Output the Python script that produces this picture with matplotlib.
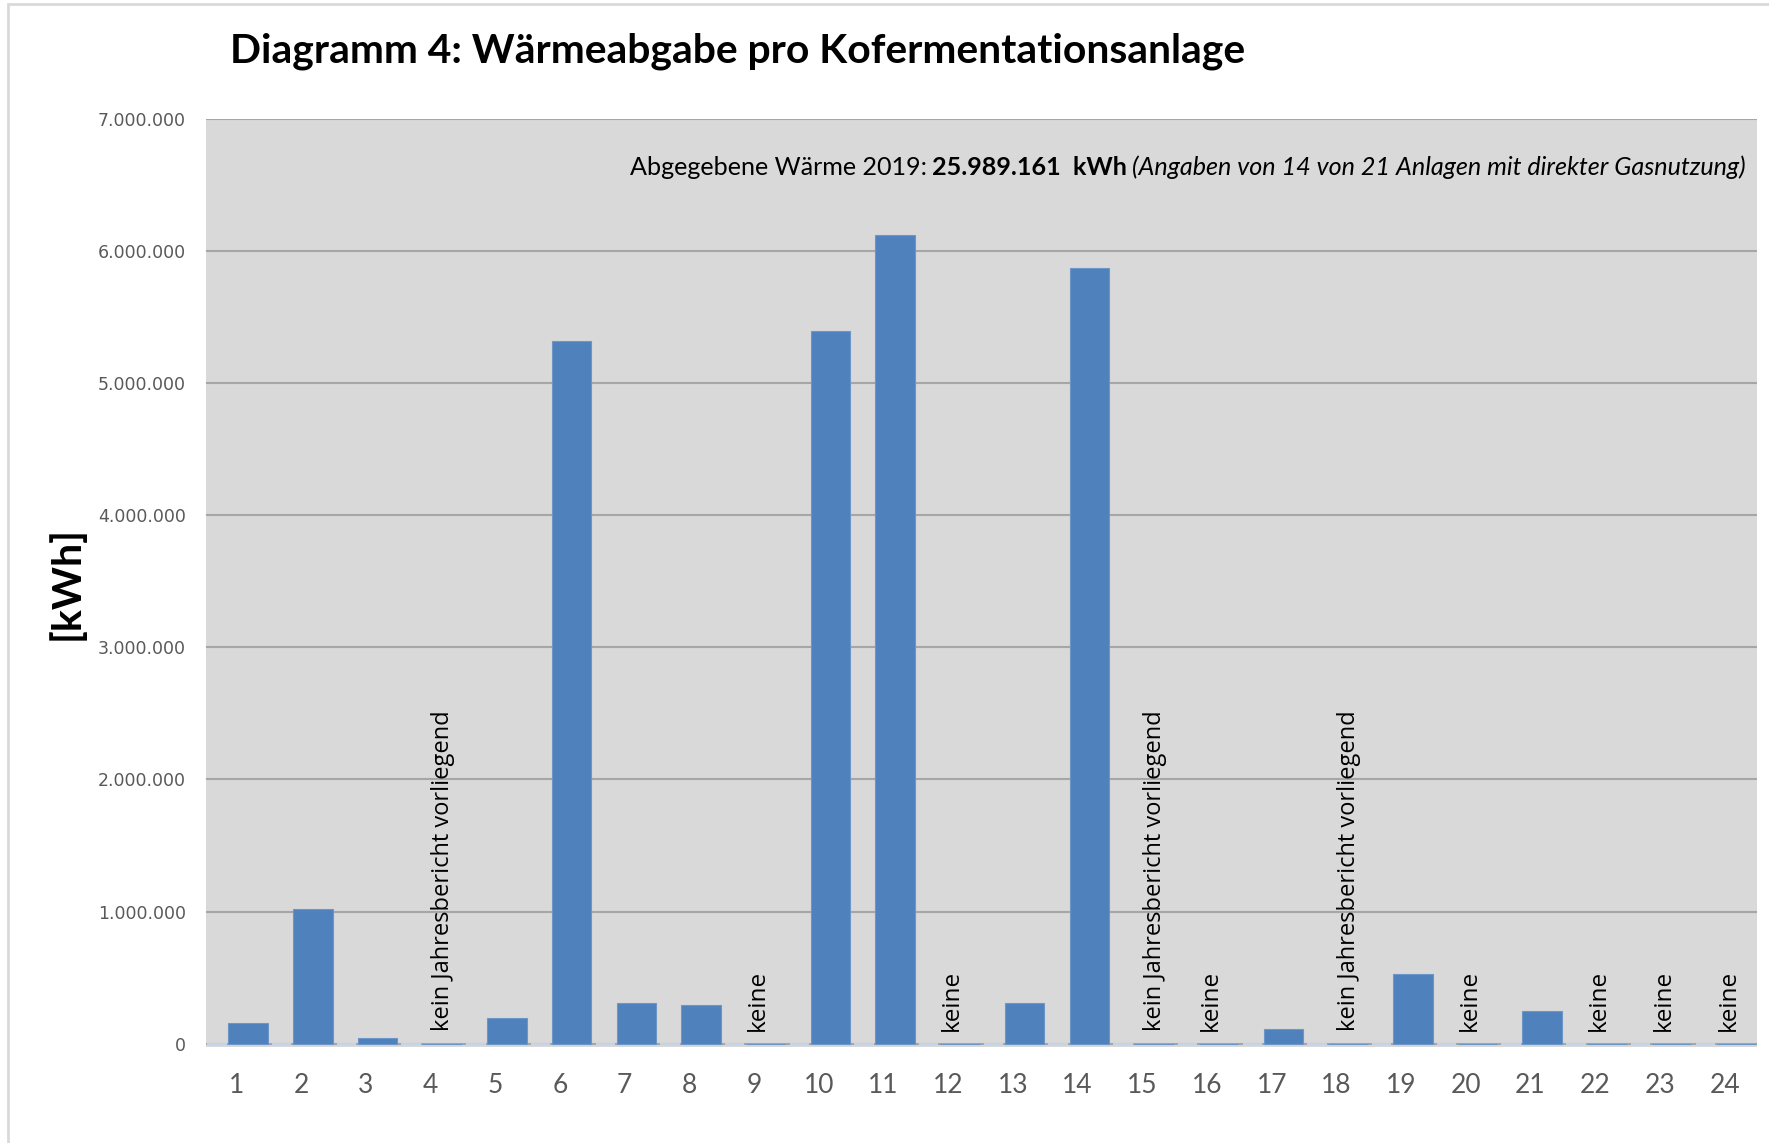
import matplotlib.pyplot as plt
import numpy as np

# Daten
title = 'Diagramm 4: Wärmeabgabe pro Kofermentationsanlage'
anlagen = list(range(1, 25))
waerme = [154000, 1020000, 41000, 0, 197000, 5320000, 308000, 292000, 0,
          5390000, 6119000, 0, 308000, 5869000, 0, 0, 113000, 0, 531000, 0,
          251000, 0, 0, 0]
leer = [0] * 24  # zweite (leere) Reihe, nur als Linie bei 0 sichtbar
hinweise = {4: 'kein Jahresbericht vorliegend', 9: 'keine', 12: 'keine',
            15: 'kein Jahresbericht vorliegend', 16: 'keine',
            18: 'kein Jahresbericht vorliegend', 20: 'keine', 22: 'keine',
            23: 'keine', 24: 'keine'}
y_ticks = np.arange(0, 7000001, 1000000)
txt_a = 'Abgegebene Wärme 2019:'
txt_b = '25.989.161  kWh'
txt_c = '(Angaben von 14 von 21 Anlagen mit direkter Gasnutzung)'

fig = plt.figure(figsize=(17.69, 11.43), dpi=100)
ax = fig.add_axes([206/1769, 1-1047/1143, (1757-206)/1769, (1047-118.5)/1143])
ax.set_facecolor('#D9D9D9')

x = np.array(anlagen)
ax.bar(x - 0.3, leer, 0.3, color='#C5D3E8', edgecolor='#C5D3E8', lw=1.5, zorder=2)
ax.bar(x + 0.18, waerme, 0.61, color='#4F81BD', edgecolor='#6C95C8', lw=0.8, zorder=3)

ax.set_xlim(0.53, 24.5)
ax.set_ylim(-25000, 7000000)
ax.set_yticks(y_ticks)
ax.set_yticklabels([f'{v:,.0f}'.replace(',', '.') for v in y_ticks],
                   fontsize=12.5, color='#595959', family='DejaVu Sans')
ax.set_xticks(x)
ax.set_xticklabels([str(a) for a in anlagen], fontsize=19, color='#595959', family='Lato')
ax.tick_params(axis='both', length=0)
ax.tick_params(axis='x', pad=19)
ax.tick_params(axis='y', pad=14.5)
ax.grid(axis='y', color='#A6A6A6', lw=1.5, zorder=1)
for s in ax.spines.values():
    s.set_visible(False)

# Hinweise senkrecht
for k, t in hinweise.items():
    lang = len(t) > 10
    ax.annotate(t, xy=(k + (0.2 if lang else 0.06), 0), xytext=(0, 9),
                textcoords='offset points', rotation=90, ha='center', va='bottom',
                fontsize=17 if lang else 17.5, family='Open Sans', color='black', zorder=4)

# Titel und Achsenbeschriftung
fig.text(230/1769, 1-51/1143, title, fontsize=29.4, weight='bold', family='Lato',
         va='center', ha='left')
fig.text(66.5/1769, 1-583/1143, '[kWh]', fontsize=29.5, weight='bold', family='Lato',
         rotation=90, va='center', ha='center')

# Summe oben rechts, gemischte Schrift
yb = 6570000
tc = ax.text(24.33, yb, txt_c, style='italic', fontsize=18.1, family='Lato',
             ha='right', va='baseline')
fig.canvas.draw()
r = fig.canvas.get_renderer()
inv = ax.transData.inverted()
x0 = inv.transform((tc.get_window_extent(r).x0 - 6, 0))[0]
tb = ax.text(x0, yb, txt_b, weight='bold', fontsize=18.1, family='Lato',
             ha='right', va='baseline')
fig.canvas.draw()
x0 = inv.transform((tb.get_window_extent(r).x0 - 5, 0))[0]
ax.text(x0, yb, txt_a, fontsize=18.1, family='Lato', ha='right', va='baseline')

# Rahmen
fig.add_artist(plt.Rectangle((8/1769, -0.1), 1.2, 1.1 - 4/1143, transform=fig.transFigure,
                             fill=False, edgecolor='#D9D9D9', lw=2))

fig.savefig('out.png', dpi=100)
